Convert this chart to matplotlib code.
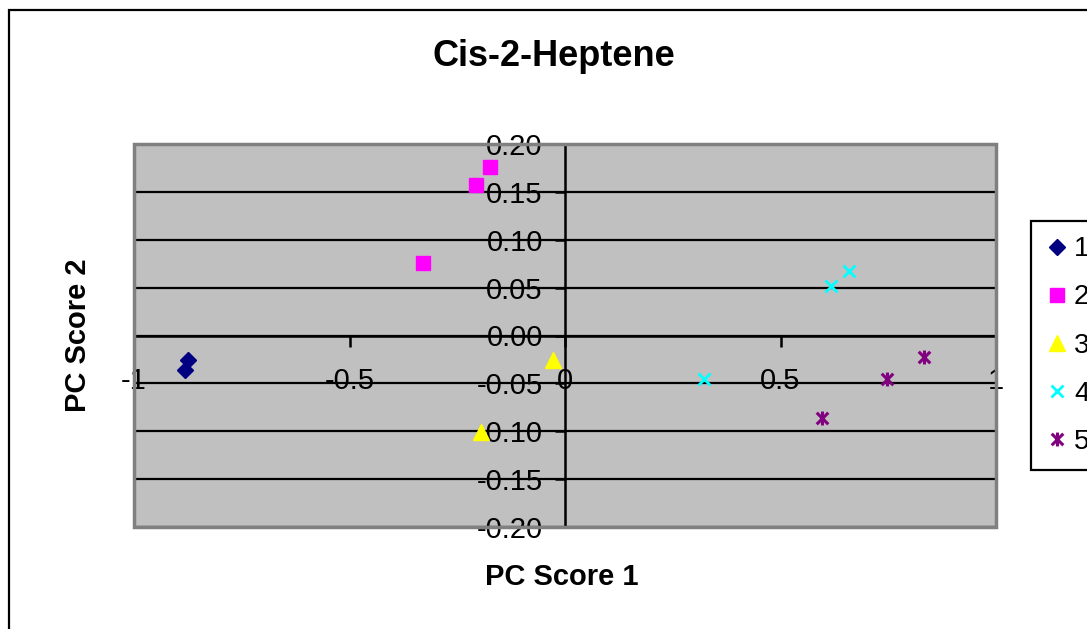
import numpy as np
import matplotlib
matplotlib.use("Agg")
import matplotlib.pyplot as plt
from matplotlib.path import Path
from matplotlib.patches import Rectangle

plt.rcParams['font.family'] = ['Liberation Sans', 'DejaVu Sans']
plt.rcParams['axes.unicode_minus'] = False

# PC scores for each group
x1 = [-0.875, -0.881]
y1 = [-0.026, -0.036]
x2 = [-0.175, -0.206, -0.329]
y2 = [0.176, 0.157, 0.076]
x3 = [-0.027, -0.196]
y3 = [-0.026, -0.101]
x4 = [0.322, 0.617, 0.658]
y4 = [-0.045, 0.052, 0.067]
x5 = [0.747, 0.833, 0.596]
y5 = [-0.045, -0.022, -0.086]
groups = ['1', '2', '3', '4', '5']

xticks = [-1, -0.5, 0, 0.5, 1]
yticks = [-0.20, -0.15, -0.10, -0.05, 0.00, 0.05, 0.10, 0.15, 0.20]

# excel style star: an x with a vertical bar
star = Path([(-1, -1), (1, 1), (-1, 1), (1, -1), (0, -1.2), (0, 1.2)],
            [Path.MOVETO, Path.LINETO, Path.MOVETO, Path.LINETO, Path.MOVETO, Path.LINETO])

W, H = 1087, 629
fig = plt.figure(figsize=(W/100, H/100), dpi=100)
fig.patch.set_facecolor('white')

# chart area outline
fig.patches.append(Rectangle((9/W, -0.1), 1.2, 1 - 10/H + 0.1, transform=fig.transFigure,
                             fill=False, edgecolor='black', linewidth=1.6))

l, r, t, b = 134, 996, 144, 527
ax = fig.add_axes([l/W, 1 - b/H, (r - l)/W, (b - t)/H])
ax.set_facecolor('#C0C0C0')
ax.set_xlim(-1, 1)
ax.set_ylim(-0.2, 0.2)

for s in ['top', 'right']:
    ax.spines[s].set_visible(False)
ax.spines['left'].set_position(('data', 0))
ax.spines['bottom'].set_position(('data', 0))
ax.spines['left'].set_linewidth(1.8)
ax.spines['bottom'].set_linewidth(1.8)
ax.spines['left'].set_zorder(3)
ax.spines['bottom'].set_zorder(3)

ax.set_xticks(xticks)
ax.set_xticklabels(['%g' % v for v in xticks])
ax.set_yticks(yticks)
ax.set_yticklabels(['%.2f' % v for v in yticks])
ax.tick_params(axis='x', direction='out', length=8, width=1.8, pad=15, labelsize=21)
ax.tick_params(axis='y', direction='out', length=7, width=1.8, pad=9, labelsize=21)
for lab in ax.get_xticklabels() + ax.get_yticklabels():
    lab.set_zorder(5)

ax.yaxis.grid(True, color='black', linewidth=1.6)
ax.set_axisbelow(True)

# grey plot area border
ax.add_patch(Rectangle((0, 0), 1, 1, transform=ax.transAxes, fill=False,
                       edgecolor='#808080', linewidth=2.5, clip_on=False, zorder=4))

ax.plot(x1, y1, linestyle='none', marker='D', markersize=8, color='#000080', label=groups[0], zorder=6)
ax.plot(x2, y2, linestyle='none', marker='s', markersize=9.5, color='#FF00FF', label=groups[1], zorder=6)
ax.plot(x3, y3, linestyle='none', marker='^', markersize=11, color='#FFFF00', label=groups[2], zorder=6)
ax.plot(x4, y4, linestyle='none', marker='x', markersize=8, markeredgewidth=2, color='#00FFFF', label=groups[3], zorder=6)
ax.plot(x5, y5, linestyle='none', marker=star, markersize=10, markeredgewidth=2.2, color='#800080', label=groups[4], zorder=6)

fig.text(554/W, 1 - 57/H, 'Cis-2-Heptene', ha='center', va='center', fontsize=26, fontweight='bold')
fig.text(562/W, 1 - 577/H, 'PC Score 1', ha='center', va='center', fontsize=21, fontweight='bold')
fig.text(78/W, 1 - 335/H, 'PC Score 2', ha='center', va='center', fontsize=21, fontweight='bold', rotation=90)

leg = fig.legend(loc='upper left', bbox_to_anchor=(1031/W, 1 - 221/H), fontsize=20,
                 frameon=True, fancybox=False, edgecolor='black', framealpha=1,
                 labelspacing=0.8, handlelength=0.8, handletextpad=0.2, borderpad=0.55,
                 borderaxespad=0)
leg.get_frame().set_linewidth(1.6)

fig.savefig('out.png', dpi=100)
